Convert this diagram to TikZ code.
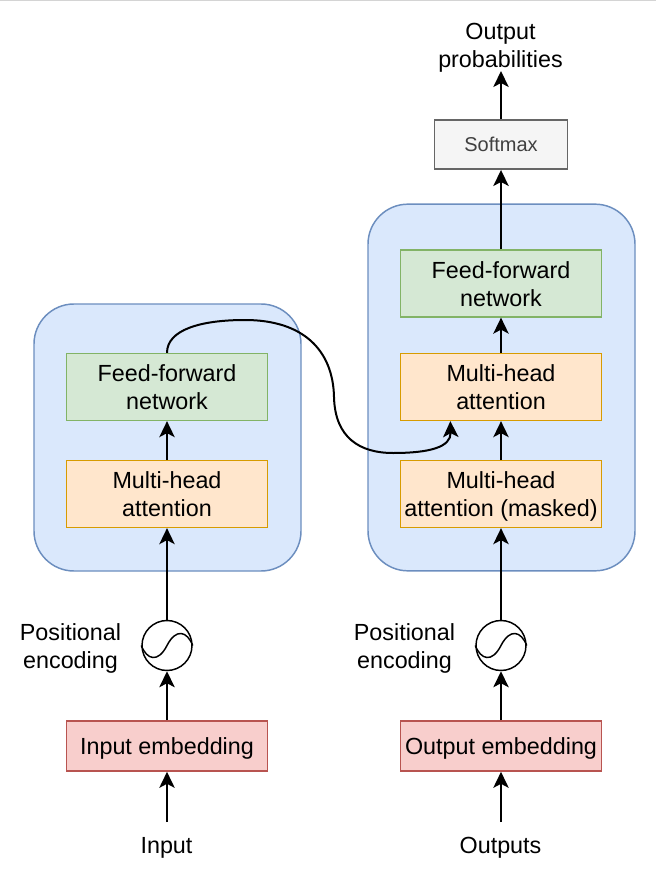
\documentclass[tikz,border=0pt]{standalone}
\usepackage{fontspec}
\setmainfont{Liberation Sans}
\usetikzlibrary{arrows.meta,calc}
\definecolor{bluef}{HTML}{DAE8FC}\definecolor{blued}{HTML}{6C8EBF}
\definecolor{greenf}{HTML}{D5E8D4}\definecolor{greend}{HTML}{82B366}
\definecolor{orangef}{HTML}{FFE6CC}\definecolor{oranged}{HTML}{D79B00}
\definecolor{redf}{HTML}{F8CECC}\definecolor{redd}{HTML}{B85450}
\definecolor{grayf}{HTML}{F5F5F5}\definecolor{grayd}{HTML}{666666}
\newcommand{\tl}[1]{\raisebox{-1.5pt}[\height][\depth]{#1}}
\newcommand{\tm}[1]{\raisebox{-0.4pt}[\height][\depth]{#1}}
\tikzset{
 x=0.75pt,y=-0.75pt,
 px/.style={line width=1.2pt},
 lab/.style={inner sep=0pt,align=center,font=\fontsize{17.5}{21}\selectfont,text=black},
 block/.style={lab,px,draw,minimum width=150.75pt,anchor=center},
 ffbox/.style={block,fill=greenf,draw=greend,minimum height=50pt},
 mhbox/.style={block,fill=orangef,draw=oranged,minimum height=50pt},
 embox/.style={block,fill=redf,draw=redd,minimum height=37.5pt},
 softbox/.style={lab,px,draw=grayd,fill=grayf,text=black!75,minimum width=100pt,minimum height=37pt,font=\fontsize{15}{18}\selectfont},
 container/.style={draw=blued,fill=bluef,line width=1.1pt,rounded corners=30pt,minimum width=200.25pt,inner sep=0pt},
 arr/.style={line width=1.5pt,-{Stealth[length=12pt,width=11.5pt,inset=3pt]}},
 encoder/.style={circle,draw,fill=white,line width=1.1pt,minimum size=37.5pt,inner sep=0pt},
}
\begin{document}
\begin{tikzpicture}
\useasboundingbox (0,0) rectangle (656,880);
\fill[white] (0,0) rectangle (656,880);
\draw[black!17,line width=1pt] (0,0.6) -- (656,0.6);
% containers
\node[container,minimum height=200.25pt] (encbox) at (167.5,437.5) {};
\node[container,minimum height=275pt] (decbox) at (501.5,387.5) {};
% left
\node[ffbox] (lff) at (167,387) {\tm{Feed-forward}\\\tm{network}};
\node[mhbox] (lmh) at (167,494) {\tm{Multi-head}\\\tm{attention}};
\node[encoder] (lpe) at (167,645.5) {};
\draw[line width=1.1pt] (lpe.west) .. controls (147,660) and (158,663) .. (167,645.5) .. controls (176,628) and (187,631) .. (lpe.east);
\node[embox] (lem) at (167,746) {\tl{Input embedding}};
\node[lab] (linp) at (166.5,848) {Input};
\node[lab] (lpl) at (70.5,648.5) {Positional\\encoding};
% right
\node[softbox] (soft) at (501,144.5) {Softmax};
\node[ffbox] (rff) at (501,283.5) {\tm{Feed-forward}\\\tm{network}};
\node[mhbox] (rmh) at (501,387) {\tm{Multi-head}\\\tm{attention}};
\node[mhbox] (rmm) at (501,494) {\tl{Multi-head}\\\tl{attention (masked)}};
\node[encoder] (rpe) at (501,645.5) {};
\draw[line width=1.1pt] (rpe.west) .. controls (481,660) and (492,663) .. (501,645.5) .. controls (510,628) and (521,631) .. (rpe.east);
\node[embox] (rem) at (501,746) {\tl{Output embedding}};
\node[lab] (rout) at (500.5,848) {Outputs};
\node[lab] (rpl) at (404.5,648.5) {Positional\\encoding};
\node[lab] (prob) at (500.5,47.5) {Output\\probabilities};
% free ends
\coordinate (linps) at (167,822);
\coordinate (routs) at (501,822);
\coordinate (probs) at (501,71);
\coordinate (tap) at ($(rmh.south west)!0.25!(rmh.south east)$);
% connectors
\draw[arr] (linps) -- (lem.south);
\draw[arr] (lem.north) -- (lpe.south);
\draw[arr] (lpe.north) -- (lmh.south);
\draw[arr] (lmh.north) -- (lff.south);
\draw[arr] (routs) -- (rem.south);
\draw[arr] (rem.north) -- (rpe.south);
\draw[arr] (rpe.north) -- (rmm.south);
\draw[arr] (rmm.north) -- (rmh.south);
\draw[arr] (rmh.north) -- (rff.south);
\draw[arr] (rff.north) -- (soft.south);
\draw[arr] (soft.north) -- (probs);
\draw[arr] (lff.north) .. controls (167,330) and (200,320) .. (245,320)
  .. controls (303,320) and (333,350) .. (334,397)
  .. controls (335,438) and (360,453) .. (393,453)
  .. controls (430,453) and (451,447) .. (tap);
\end{tikzpicture}
\end{document}
